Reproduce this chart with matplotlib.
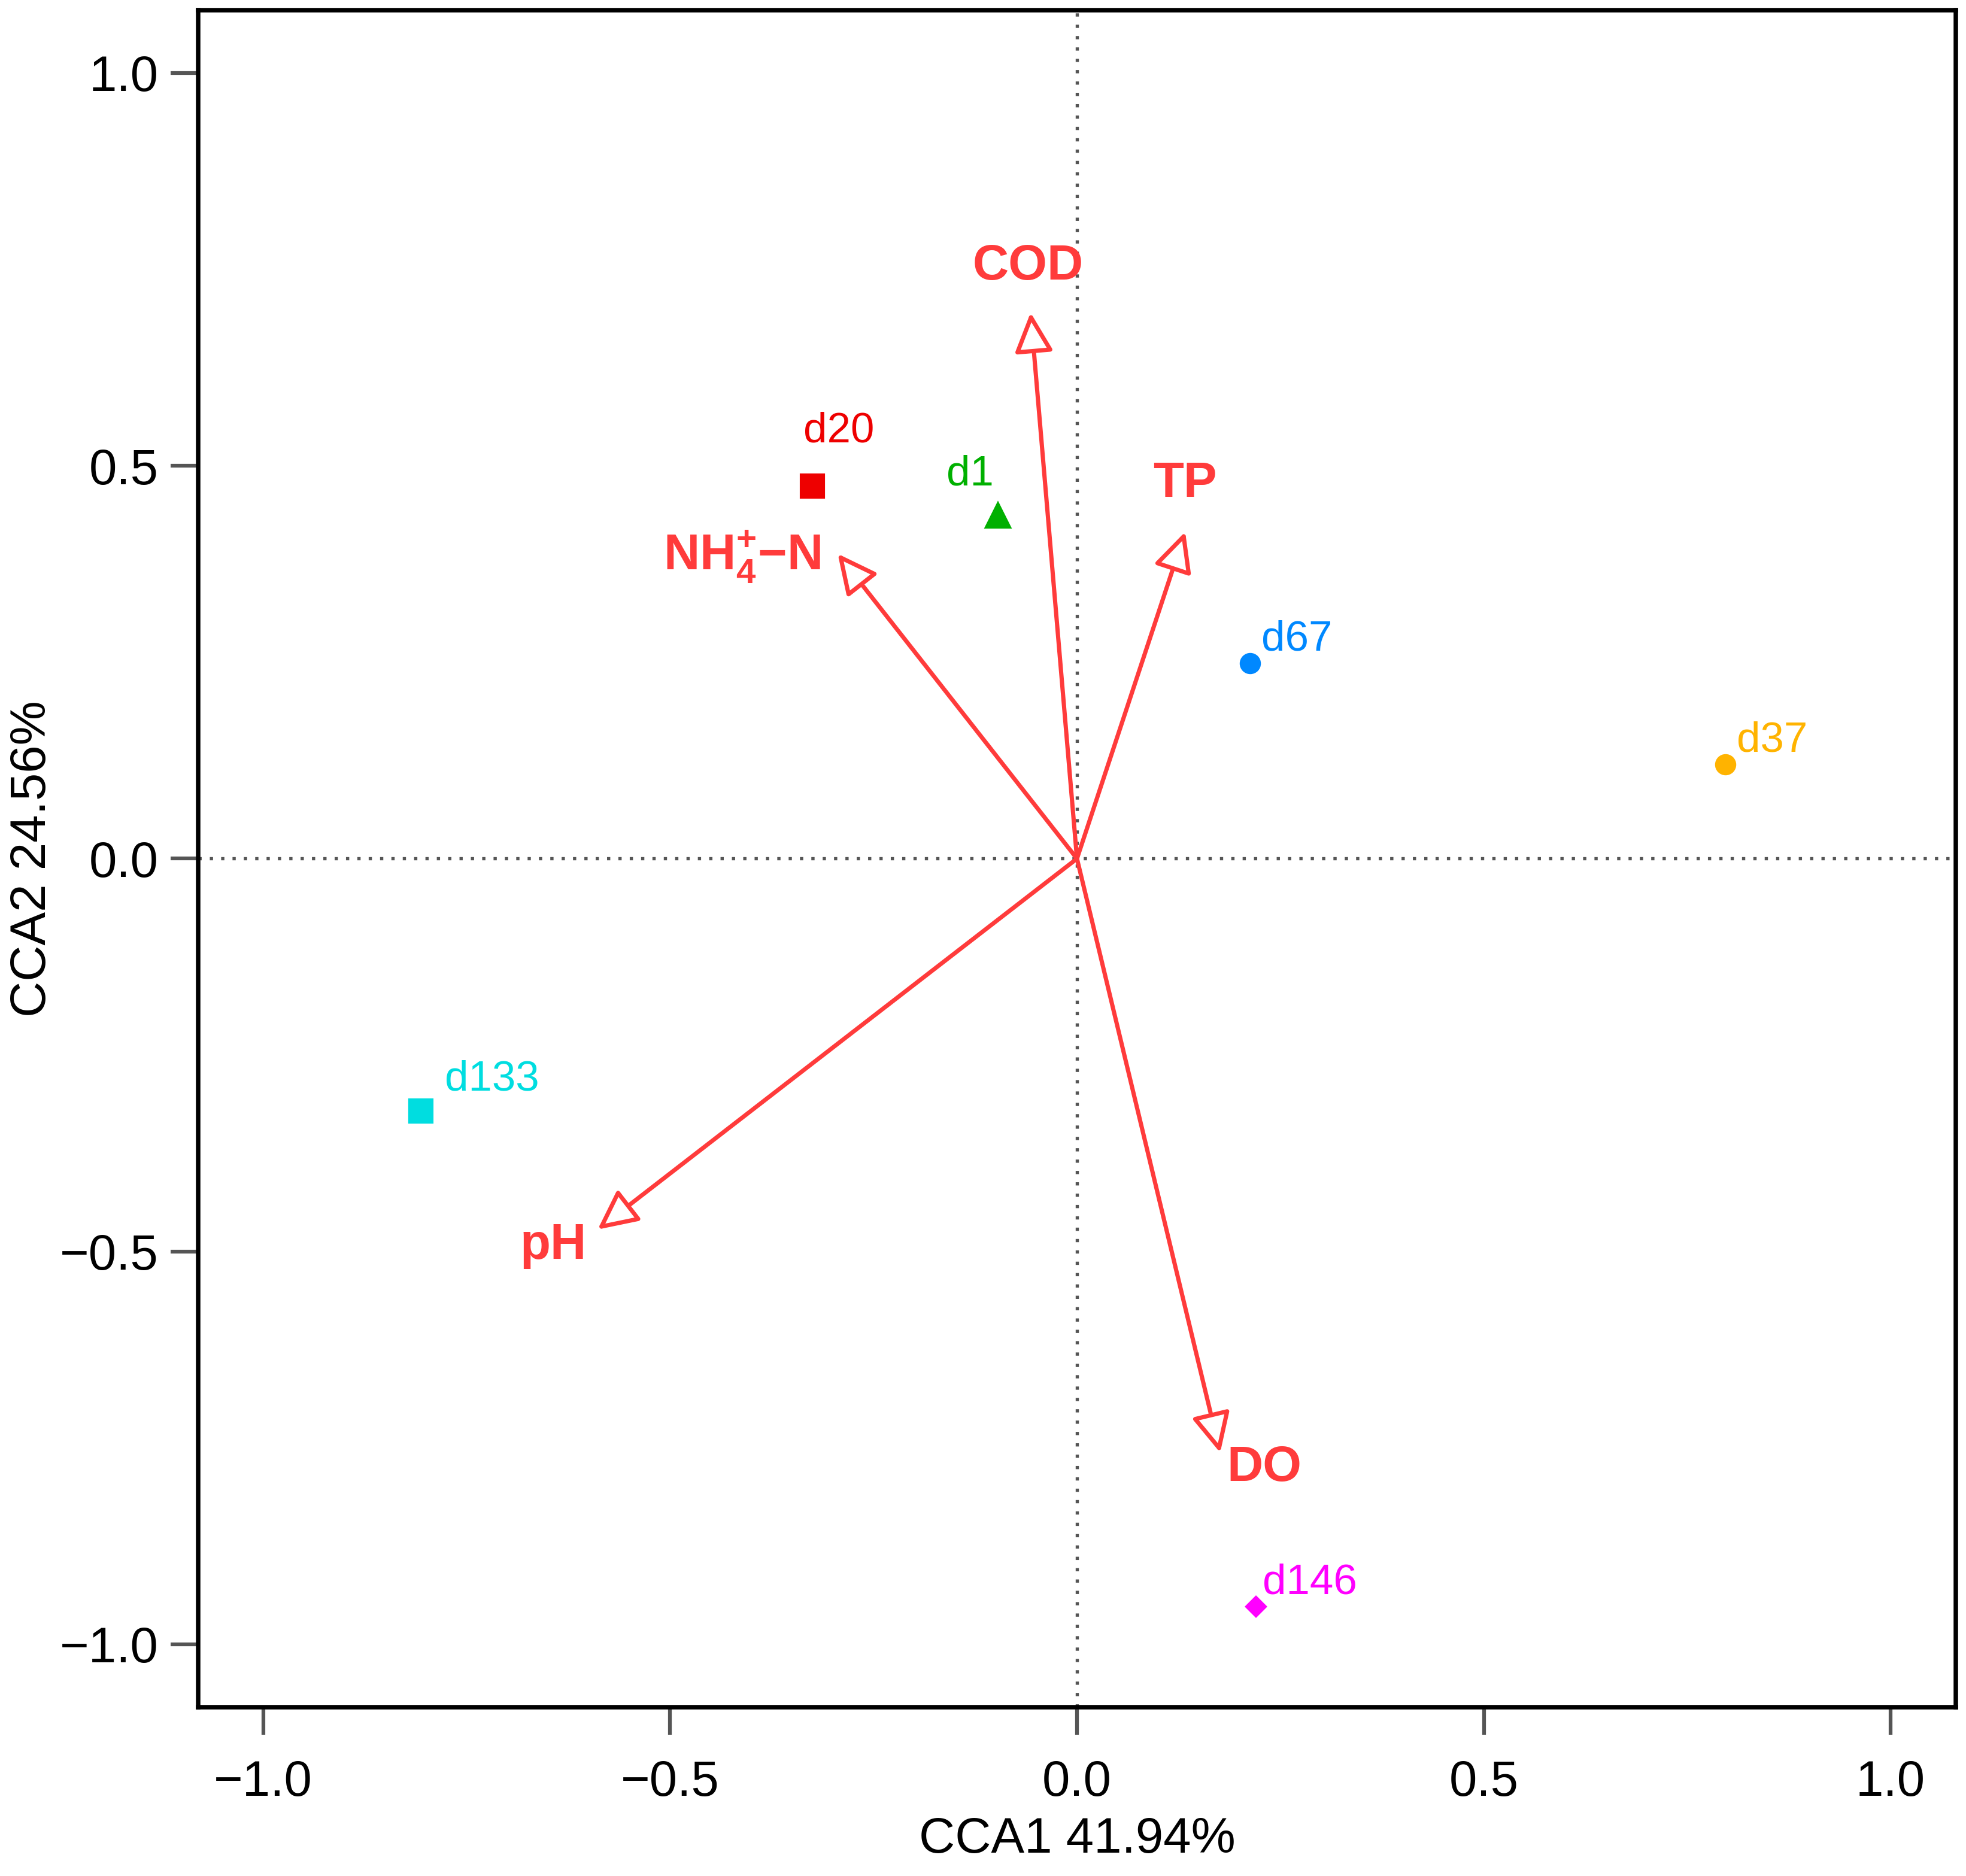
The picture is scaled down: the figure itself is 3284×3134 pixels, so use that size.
import matplotlib
matplotlib.use("Agg")
import matplotlib.pyplot as plt
from matplotlib.patches import FancyArrowPatch

# sample scores (CCA1, CCA2)
samples = ["d20", "d1", "d67", "d37", "d133", "d146"]
sample_x = [-0.325, -0.097, 0.213, 0.797, -0.806, 0.220]
sample_y = [0.474, 0.437, 0.249, 0.120, -0.321, -0.952]
sample_colors = ["#EE0000", "#00B000", "#0088FF", "#FFB300", "#00DDE0", "#FF00FF"]
sample_markers = ["s", "^", "o", "o", "s", "D"]
sample_sizes = [9, 9.5, 7.5, 7.5, 9, 5.5]

# environmental vectors
env_names = ["COD", "TP", r"NH$_\mathbf{4}^\mathbf{+}$$\mathbf{-}$N", "pH", "DO"]
env_x = [-0.057, 0.133, -0.294, -0.589, 0.176]
env_y = [0.695, 0.416, 0.388, -0.472, -0.756]

# text placement (offsets from the point / arrow tip, in data units)
sample_label_dx = [0.032, -0.034, 0.057, 0.057, 0.087, 0.066]
sample_label_dy = [0.070, 0.052, 0.030, 0.030, 0.040, 0.030]
env_label_xy = [(-0.060, 0.754), (0.133, 0.477), (-0.315, 0.384), (-0.644, -0.493), (0.230, -0.775)]
env_label_ha = ["center", "center", "right", "center", "center"]

arrow_red = "#FF3B3B"

plt.rcParams["font.family"] = ["Liberation Sans", "DejaVu Sans"]
plt.rcParams["mathtext.fontset"] = "custom"
plt.rcParams["mathtext.rm"] = "Liberation Sans"
plt.rcParams["mathtext.bf"] = "Liberation Sans:bold"

fig = plt.figure(figsize=(3284 / 300, 3134 / 300), dpi=300)
ax = fig.add_axes([0.1008, 0.090, 0.894, 0.9046])

ax.axhline(0, color="#555555", linestyle=(0, (1, 2.5)), linewidth=1.3, zorder=1)
ax.axvline(0, color="#555555", linestyle=(0, (1, 2.5)), linewidth=1.3, zorder=1)

for ex, ey in zip(env_x, env_y):
    arr = FancyArrowPatch((0, 0), (ex, ey), arrowstyle="-|>,head_length=0.45,head_width=0.22",
                          mutation_scale=30, edgecolor=arrow_red, facecolor="white",
                          linewidth=1.7, shrinkA=0, shrinkB=0, zorder=3)
    ax.add_patch(arr)

for name, (lx, ly), ha in zip(env_names, env_label_xy, env_label_ha):
    ax.text(lx, ly, name, color=arrow_red, fontsize=20, fontweight="bold",
            ha=ha, va="center", zorder=4)

for i, s in enumerate(samples):
    ax.plot(sample_x[i], sample_y[i], marker=sample_markers[i], markersize=sample_sizes[i],
            color=sample_colors[i], linestyle="none", zorder=5)
    ax.text(sample_x[i] + sample_label_dx[i], sample_y[i] + sample_label_dy[i], s,
            color=sample_colors[i], fontsize=17, ha="center", va="center", zorder=5)

ax.set_xlim(-1.08, 1.08)
ax.set_ylim(-1.08, 1.08)
ticks = [-1.0, -0.5, 0.0, 0.5, 1.0]
ax.set_xticks(ticks)
ax.set_yticks(ticks)
ax.set_xticklabels(["\u22121.0", "\u22120.5", "0.0", "0.5", "1.0"])
ax.set_yticklabels(["\u22121.0", "\u22120.5", "0.0", "0.5", "1.0"])
ax.tick_params(direction="out", length=11, width=1.5, color="#555555",
               labelsize=20)
ax.tick_params(axis="y", pad=5)
ax.tick_params(axis="x", pad=10)
for sp in ax.spines.values():
    sp.set_linewidth(1.8)
    sp.set_color("black")

ax.set_xlabel("CCA1 41.94%", fontsize=20, labelpad=4)
ax.set_ylabel("CCA2 24.56%", fontsize=20)
ax.yaxis.set_label_coords(-0.081, 0.5)

fig.savefig("out.png", dpi=300, facecolor="white")
